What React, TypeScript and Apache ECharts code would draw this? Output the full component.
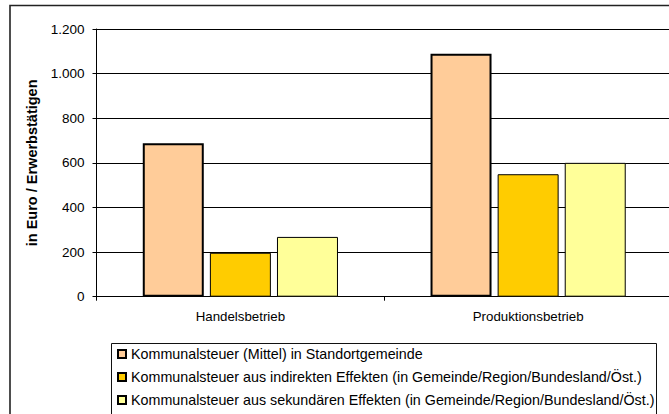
import React, { useEffect, useRef } from "react";
import * as echarts from "echarts";

const categories = ["Handelsbetrieb", "Produktionsbetrieb"];
const seriesNames = [
  "Kommunalsteuer (Mittel) in Standortgemeinde",
  "Kommunalsteuer aus indirekten Effekten (in Gemeinde/Region/Bundesland/Öst.)",
  "Kommunalsteuer aus sekundären Effekten (in Gemeinde/Region/Bundesland/Öst.)",
];
const standortValues = [688, 1089];
const indirektValues = [197, 549];
const sekundaerValues = [268, 600];
const yAxisTitle = "in Euro / Erwerbstätigen";
const yMin = 0;
const yMax = 1200;
const yStep = 200;

const FONT = "'Liberation Sans', Arial, Helvetica, sans-serif";

function fmt(v: number): string {
  if (v >= 1000) {
    return Math.floor(v / 1000) + "." + String(v % 1000).padStart(3, "0");
  }
  return String(v);
}

export default function App() {
  const ref = useRef<HTMLDivElement>(null);
  useEffect(() => {
    document.documentElement.style.overflow = "hidden";
    document.body.style.margin = "0";
    document.body.style.overflow = "hidden";
    if (!ref.current) return;
    const chart = echarts.init(ref.current, null, { renderer: "svg" });
    const colors = ["#FFCC99", "#FFCC00", "#FFFF99"];
    const data = [standortValues, indirektValues, sekundaerValues];
    chart.setOption({
      animation: false,
      backgroundColor: "#ffffff",
      textStyle: { fontFamily: FONT },
      grid: { left: 96.5, right: -3, top: 29, bottom: 117.3, containLabel: false, outerBoundsMode: "none" },
      graphic: [
        {
          type: "polyline",
          shape: { points: [[10, 420], [10, 5.5], [680, 5.5]] },
          style: { fill: "none", stroke: "#222", lineWidth: 1.6 },
          silent: true,
          z: 0,
        },
        {
          type: "rect",
          shape: { x: 111.5, y: 343.5, width: 545, height: 100 },
          style: { fill: "#fff", stroke: "#111", lineWidth: 1 },
          silent: true,
          z: 1,
        },
      ],
      legend: {
        orient: "vertical",
        left: 117,
        top: 347,
        padding: 0,
        itemWidth: 8,
        itemHeight: 8,
        itemGap: 9,
        icon: "rect",
        z: 5,
        textStyle: {
          fontFamily: FONT,
          fontSize: 14.3,
          lineHeight: 14,
          color: "#000",
          padding: [0, 0, 0, 0],
        },
        data: seriesNames,
      },
      xAxis: {
        type: "category",
        data: categories,
        axisLine: { show: true, lineStyle: { color: "#000", width: 1 } },
        axisTick: { show: true, alignWithLabel: false, length: 4, lineStyle: { color: "#000" } },
        axisLabel: { color: "#000", fontSize: 13.3, margin: 13, fontFamily: FONT },
        splitLine: { show: false },
      },
      yAxis: {
        type: "value",
        min: yMin,
        max: yMax,
        interval: yStep,
        name: yAxisTitle,
        nameLocation: "middle",
        nameRotate: 90,
        nameGap: 55,
        nameTextStyle: { fontFamily: FONT, fontSize: 14.5, fontWeight: "bold", color: "#000" },
        axisLine: { show: true, lineStyle: { color: "#000", width: 1 } },
        axisTick: { show: true, length: 4, lineStyle: { color: "#000" } },
        axisLabel: {
          color: "#000",
          fontSize: 13.5,
          margin: 12,
          fontFamily: FONT,
          formatter: (v: number) => fmt(v),
        },
        splitLine: { show: true, lineStyle: { color: "#000", width: 1 } },
      },
      series: data.map((d, i) => ({
        name: seriesNames[i],
        type: "bar",
        data: d,
        barWidth: 61,
        barGap: "10%",
        itemStyle: {
          color: colors[i],
          borderColor: "#000",
          borderWidth: i === 0 ? 2 : 1,
        },
      })),
    });
    return () => chart.dispose();
  }, []);
  return (
    <div
      ref={ref}
      style={{ position: "absolute", left: 0, top: 0, width: 669, height: 414, background: "#fff" }}
    />
  );
}
